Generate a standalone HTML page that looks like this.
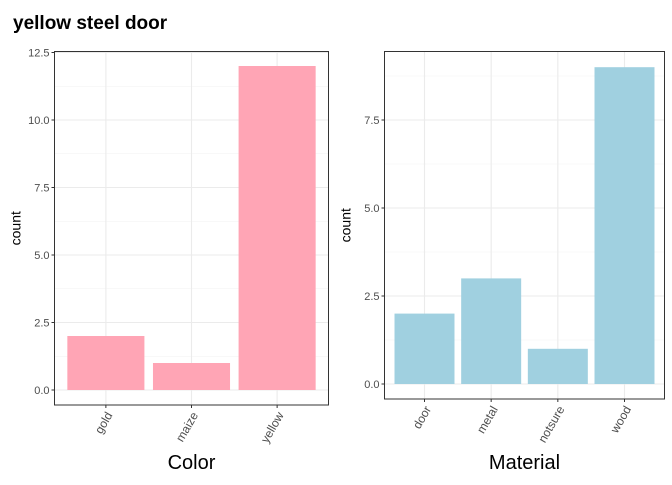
<!DOCTYPE html>
<html><head><meta charset="utf-8"><style>
body{margin:0;background:#fff;font-family:"Liberation Sans",sans-serif}
</style></head><body>
<svg id="c" width="672" height="480" xmlns="http://www.w3.org/2000/svg">
<text x="13" y="29" font-size="19" font-weight="bold" fill="#000">yellow steel door</text>
</svg>
<script>
const colorCats=["gold","maize","yellow"];
const colorCounts=[2,1,12];
const colorTicks=[0,2.5,5,7.5,10,12.5];
const matCats=["door","metal","notsure","wood"];
const matCounts=[2,3,1,9];
const matTicks=[0,2.5,5,7.5];
const svg=document.getElementById('c');
const NS='http://www.w3.org/2000/svg';
function mk(t,a,p){const e=document.createElementNS(NS,t);for(const k in a)e.setAttribute(k,a[k]);(p||svg).appendChild(e);return e;}
function panel(cfg){
  const {x0,x1,y0,y1,zeroY,unit,cats,vals,ticks,fill,title,titleY,name}=cfg;
  const g=mk('g',{});
  
  
  const yS=v=>zeroY-v*unit;
  const slot=(x1-x0)/(cats.length+0.2);
  const xS=i=>x0+slot*0.6+slot*i;
  for(let i=0;i<ticks.length;i++){
    const m=ticks[i]+(ticks[1]-ticks[0])/2;
    if(yS(m)>y0) mk('line',{x1:x0,x2:x1,y1:yS(m),y2:yS(m),stroke:'#f2f2f2','stroke-width':0.6},g);
  }
  ticks.forEach(t=>{
    mk('line',{x1:x0,x2:x1,y1:yS(t),y2:yS(t),stroke:'#ebebeb','stroke-width':1.1},g);
    mk('line',{x1:x0-3,x2:x0,y1:yS(t),y2:yS(t),stroke:'#333','stroke-width':1},g);
    const tx=mk('text',{x:x0-5,y:yS(t)+4,'text-anchor':'end','font-size':11,fill:'#4d4d4d'},g);
    tx.textContent=t.toFixed(1);
    
    
  });
  cats.forEach((c,i)=>{
    const cx=xS(i);
    mk('line',{x1:cx,x2:cx,y1:y0,y2:y1,stroke:'#ebebeb','stroke-width':1.1},g);
  });
  cats.forEach((c,i)=>{
    const cx=xS(i),w=slot*0.9;
    const r=mk('rect',{x:cx-w/2,y:yS(vals[i]),width:w,height:vals[i]*unit,fill:fill},g);
    
    
    mk('line',{x1:cx,x2:cx,y1:y1,y2:y1+3,stroke:'#333','stroke-width':1},g);
    const ax=cx+7, ay=y1+10;
    const t=mk('text',{x:ax,y:ay,'text-anchor':'end','font-size':12,fill:'#4d4d4d',transform:`rotate(-60 ${ax} ${ay})`},g);
    t.textContent=c;
    
    
  });
  mk('rect',{x:x0,y:y0,width:x1-x0,height:y1-y0,fill:'none',stroke:'#333','stroke-width':1},g);
  const xt=mk('text',{x:(x0+x1)/2,y:titleY,'text-anchor':'middle','font-size':20,fill:'#000'},g);
  xt.textContent=title;
  
  
  const yx=x0-34, yy=(y0+y1)/2;
  const yt=mk('text',{x:yx,y:yy,'text-anchor':'middle','font-size':14,fill:'#000',transform:`rotate(-90 ${yx} ${yy})`},g);
  yt.textContent='count';
  
  
}
panel({x0:54.5,x1:328.5,y0:51.5,y1:405,zeroY:390,unit:27.0,cats:colorCats,vals:colorCounts,ticks:colorTicks,fill:'#ffa5b5',title:'Color',titleY:469,name:'color'});
panel({x0:384.5,x1:664.5,y0:51.5,y1:399,zeroY:384,unit:35.2,cats:matCats,vals:matCounts,ticks:matTicks,fill:'#a0d0e0',title:'Material',titleY:469,name:'material'});
</script>
</body></html>
